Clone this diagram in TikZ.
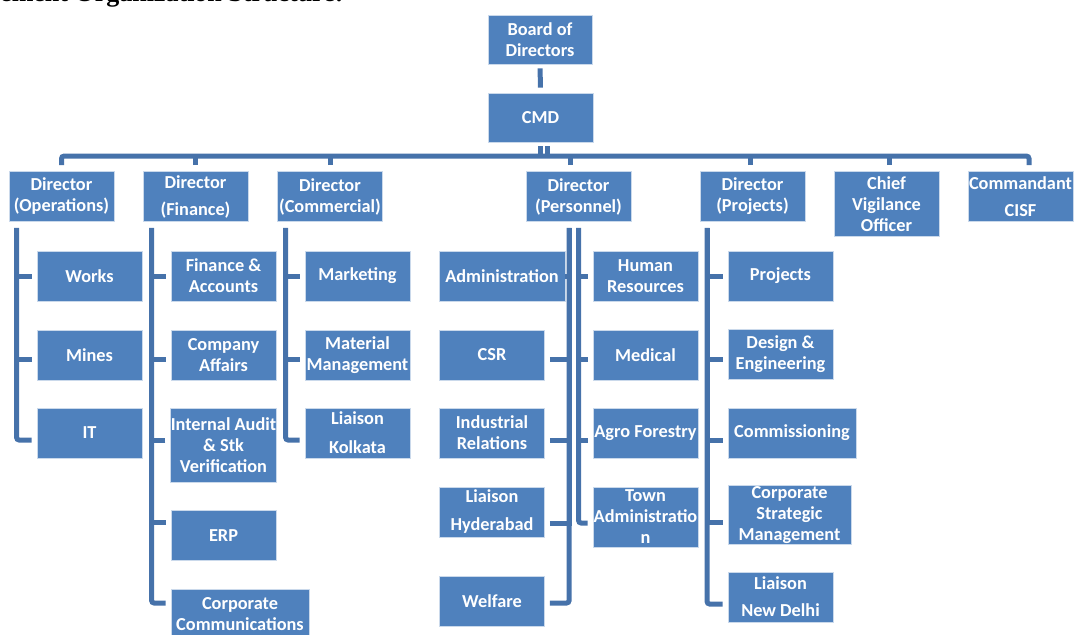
\documentclass[tikz,border=0pt]{standalone}
\usepackage{fontspec}
\setmainfont{Carlito}
\newfontfamily\headfont{Liberation Serif}
\definecolor{boxblue}{HTML}{4F81BD}
\definecolor{linkblue}{HTML}{4672AA}
\tikzset{
orgbox/.style={rectangle,draw=white!70!boxblue,line width=0.8pt,fill=boxblue,text=white,
  minimum width=105pt,minimum height=50pt,inner xsep=0pt,inner ysep=1pt,align=center,
  font=\fontsize{18.3}{21}\selectfont\bfseries},
orglink/.style={draw=linkblue,line width=5pt,rounded corners=2.5pt},
headtext/.style={font=\headfont\fontsize{26}{28}\selectfont\bfseries}
}
\begin{document}
\begin{tikzpicture}[x=1pt,y=-1pt]
\useasboundingbox (0,0) rectangle (1075,634);
\node[headtext,anchor=base east] (title) at (347,2) {ement Organization Structure:};

\node[orgbox,minimum width=104pt,minimum height=49pt] (board) at (540,39.5) {Board of\\Directors};
\node[orgbox,minimum height=49pt] (cmd) at (540.5,117.5) {CMD};

\node[orgbox] (dops) at (61.5,196.5) {Director\\(Operations)};
\node[orgbox] (dfin) at (195.5,196.5) {Director\\[6pt](Finance)};
\node[orgbox] (dcom) at (330,196.5) {Director\\(Commercial)};
\node[orgbox] (dper) at (578.5,196.5) {Director\\(Personnel)};
\node[orgbox] (dprj) at (752.5,196.5) {Director\\(Projects)};
\node[orgbox,minimum height=65pt] (cvo) at (886.5,204) {Chief\\Vigilance\\Officer};
\node[orgbox] (cisf) at (1020.5,196.5) {Commandant\\[6pt]CISF};

\node[orgbox] (works) at (89.5,276) {Works};
\node[orgbox] (mines) at (89.5,355) {Mines};
\node[orgbox] (it) at (89.5,433) {IT};

\node[orgbox] (fa) at (223.5,276) {Finance \&\\Accounts};
\node[orgbox] (ca) at (223.5,355) {Company\\Affairs};
\node[orgbox,minimum height=74pt] (ia) at (223.5,445) {Internal Audit\\\& Stk\\Verification};
\node[orgbox] (erp) at (223.5,535.5) {ERP};
\node[orgbox,minimum width=138pt] (cc) at (240,614) {Corporate\\Communications};

\node[orgbox] (mkt) at (357.5,276) {Marketing};
\node[orgbox] (mm) at (357.5,355) {Material\\Management};
\node[orgbox] (lk) at (357.5,433) {Liaison\\[8pt]Kolkata};

\node[orgbox,minimum width=126pt] (adm) at (502,276) {Administration};
\node[orgbox] (csr) at (492,355) {CSR};
\node[orgbox] (ir) at (492,433) {Industrial\\Relations};
\node[orgbox] (lh) at (492,512) {Liaison\\[7pt]Hyderabad};
\node[orgbox] (wel) at (492,601) {Welfare};

\node[orgbox] (hr) at (645.5,276) {Human\\Resources};
\node[orgbox] (med) at (645.5,355) {Medical};
\node[orgbox] (agro) at (645.5,433) {Agro Forestry};
\node[orgbox,minimum height=60pt] (town) at (645.5,517) {Town\\Administratio\\n};

\node[orgbox] (prj) at (780.5,276) {Projects};
\node[orgbox] (de) at (780.5,354.5) {Design \&\\Engineering};
\node[orgbox,minimum width=128pt] (comm) at (792,433) {Commissioning};
\node[orgbox,minimum width=123pt,minimum height=56pt] (csm) at (789.5,515) {Corporate\\Strategic\\Management};
\node[orgbox] (lnd) at (780.5,597) {Liaison\\[6pt]New Delhi};

\coordinate (busy) at (0,156.5);
\draw[orglink,shorten <=4pt,shorten >=5pt] (board) -- (cmd);
\draw[orglink] ([yshift=-4pt]cmd.south) -- (cmd.south |- busy);
\draw[orglink] ([xshift=7pt,yshift=-4pt]cmd.south) -- ([xshift=7pt]cmd.south |- busy);
\draw[orglink] ([yshift=6pt]dops.north) |- ([xshift=8.5pt,yshift=15pt]cisf.north) -- ([xshift=8.5pt,yshift=6pt]cisf.north);
\foreach \n/\s in {dfin/0,dcom/0,dper/-8.5,dprj/-2.5,cvo/2.5}
  \draw[orglink] ([xshift=\s pt,yshift=6pt]\n.north) -- ([xshift=\s pt]\n.north |- busy);

\coordinate (sops) at ([xshift=8pt,yshift=-6pt]dops.south west);
\coordinate (sfin) at ([xshift=9pt,yshift=-6pt]dfin.south west);
\coordinate (scom) at ([xshift=8.5pt,yshift=-6pt]dcom.south west);
\coordinate (sperl) at ([xshift=43.5pt,yshift=-6pt]dper.south west);
\coordinate (sperr) at ([xshift=53pt,yshift=-6pt]dper.south west);
\coordinate (sprj) at ([xshift=7.5pt,yshift=-6pt]dprj.south west);

\draw[orglink] (sops) |- ([xshift=-5pt,yshift=-7pt]it.west);
\foreach \n/\s in {works/0,mines/-4}
  \draw[orglink,sharp corners] ([xshift=-5pt,yshift=\s pt]\n.west) -| (sops);

\draw[orglink] (sfin) |- ([xshift=-5pt,yshift=11pt]cc.west);
\foreach \n/\s in {fa/0,ca/-4,ia/5,erp/13.5}
  \draw[orglink,sharp corners] ([xshift=-5pt,yshift=\s pt]\n.west) -| (sfin);

\draw[orglink] (scom) |- ([xshift=-5pt,yshift=-7pt]lk.west);
\foreach \n/\s in {mkt/0,mm/-4}
  \draw[orglink,sharp corners] ([xshift=-5pt,yshift=\s pt]\n.west) -| (scom);

\draw[orglink] (sperl) |- ([xshift=5pt,yshift=-2pt]wel.east);
\foreach \n/\g/\s in {adm/0/0,csr/5/-4,ir/5/-7,lh/5/-11}
  \draw[orglink,sharp corners] ([xshift=\g pt,yshift=\s pt]\n.east) -| (sperl);

\draw[orglink] (sperr) |- ([xshift=-5pt,yshift=-6pt]town.west);
\foreach \n/\s in {hr/0,med/-4,agro/-7}
  \draw[orglink,sharp corners] ([xshift=-5pt,yshift=\s pt]\n.west) -| (sperr);

\draw[orglink] (sprj) |- ([xshift=-5pt,yshift=-7pt]lnd.west);
\foreach \n/\s in {prj/0,de/-4.5,comm/-7,csm/-7}
  \draw[orglink,sharp corners] ([xshift=-5pt,yshift=\s pt]\n.west) -| (sprj);
\end{tikzpicture}
\end{document}
